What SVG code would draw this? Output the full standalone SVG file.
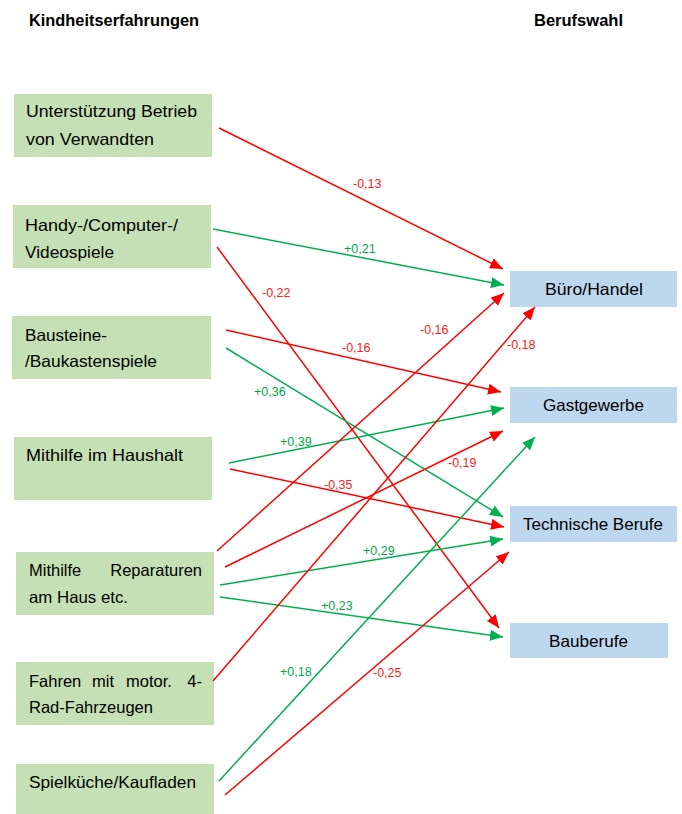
<svg xmlns="http://www.w3.org/2000/svg" width="682" height="814" viewBox="0 0 682 814">
<style>
.bg{fill:#ffffff}
.src{fill:#C5E0B4}
.dst{fill:#BDD7EE}
.t{font-family:"Liberation Sans",Arial,sans-serif;font-size:16.5px;fill:#000}
.h{font-family:"Liberation Sans",Arial,sans-serif;font-size:16.4px;font-weight:bold;fill:#000}
.r{stroke:#FF0000;stroke-width:1.5;fill:none;marker-end:url(#ar)}
.g{stroke:#00B050;stroke-width:1.5;fill:none;marker-end:url(#ag)}
.lr{font-family:"Liberation Sans",Arial,sans-serif;font-size:12.5px;fill:#FF2020}
.lg{font-family:"Liberation Sans",Arial,sans-serif;font-size:12.5px;fill:#00A848}
</style>
<defs>
<marker id="ar" markerUnits="userSpaceOnUse" markerWidth="13" markerHeight="11" refX="13" refY="5.5" orient="auto"><path d="M0,0 L13,5.5 L0,11 Z" fill="#FF0000"/></marker>
<marker id="ag" markerUnits="userSpaceOnUse" markerWidth="13" markerHeight="11" refX="13" refY="5.5" orient="auto"><path d="M0,0 L13,5.5 L0,11 Z" fill="#00B050"/></marker>
</defs>
<rect class="bg" x="0" y="0" width="682" height="814"/>
<text class="h" x="29" y="26" textLength="170" lengthAdjust="spacingAndGlyphs">Kindheitserfahrungen</text>
<text class="h" x="534" y="26" textLength="89" lengthAdjust="spacingAndGlyphs">Berufswahl</text>

<g id="n1"><rect class="src" x="14" y="94" width="198" height="63"/>
<text class="t" x="26" y="117" textLength="171" lengthAdjust="spacingAndGlyphs">Unterstützung Betrieb</text>
<text class="t" x="26" y="145" textLength="128" lengthAdjust="spacingAndGlyphs">von Verwandten</text></g>
<g id="n2"><rect class="src" x="13" y="205" width="198" height="63"/>
<text class="t" x="25" y="231" textLength="153" lengthAdjust="spacingAndGlyphs">Handy-/Computer-/</text>
<text class="t" x="25" y="258" textLength="89" lengthAdjust="spacingAndGlyphs">Videospiele</text></g>
<g id="n3"><rect class="src" x="12" y="316" width="199" height="63"/>
<text class="t" x="25" y="341" textLength="82" lengthAdjust="spacingAndGlyphs">Bausteine-</text>
<text class="t" x="25" y="367" textLength="132" lengthAdjust="spacingAndGlyphs">/Baukastenspiele</text></g>
<g id="n4"><rect class="src" x="14" y="437" width="198" height="63"/>
<text class="t" x="26" y="461" textLength="157" lengthAdjust="spacingAndGlyphs">Mithilfe im Haushalt</text></g>
<g id="n5"><rect class="src" x="16" y="552" width="198" height="63"/>
<text class="t" y="576"><tspan x="29">Mithilfe</tspan><tspan x="202" text-anchor="end">Reparaturen</tspan></text>
<text class="t" x="29" y="603" textLength="99" lengthAdjust="spacingAndGlyphs">am Haus etc.</text></g>
<g id="n6"><rect class="src" x="16" y="662" width="198" height="63"/>
<text class="t" y="687"><tspan x="29">Fahren</tspan><tspan x="92">mit</tspan><tspan x="126">motor.</tspan><tspan x="202" text-anchor="end">4-</tspan></text>
<text class="t" x="29" y="713" textLength="124" lengthAdjust="spacingAndGlyphs">Rad-Fahrzeugen</text></g>
<g id="n7"><rect class="src" x="16" y="764" width="198" height="50"/>
<text class="t" x="29" y="788" textLength="167" lengthAdjust="spacingAndGlyphs">Spielküche/Kaufladen</text></g>

<g id="d1"><rect class="dst" x="510" y="271" width="167" height="36"/>
<text class="t" x="594" y="295" text-anchor="middle" textLength="98" lengthAdjust="spacingAndGlyphs">Büro/Handel</text></g>
<g id="d2"><rect class="dst" x="510" y="387" width="167" height="36"/>
<text class="t" x="593.5" y="411" text-anchor="middle" textLength="101" lengthAdjust="spacingAndGlyphs">Gastgewerbe</text></g>
<g id="d3"><rect class="dst" x="510" y="506" width="167" height="36"/>
<text class="t" x="593" y="530" text-anchor="middle" textLength="140" lengthAdjust="spacingAndGlyphs">Technische Berufe</text></g>
<g id="d4"><rect class="dst" x="510" y="623" width="158" height="35"/>
<text class="t" x="588.5" y="647" text-anchor="middle" textLength="79" lengthAdjust="spacingAndGlyphs">Bauberufe</text></g>

<g id="connectors">
<line class="r" x1="219" y1="128" x2="503" y2="269"/>
<line class="g" x1="213" y1="229" x2="504" y2="285"/>
<line class="r" x1="217" y1="247" x2="499" y2="628"/>
<line class="r" x1="226" y1="330" x2="501" y2="392"/>
<line class="g" x1="226" y1="348" x2="503" y2="517"/>
<line class="g" x1="229" y1="463" x2="504" y2="408"/>
<line class="r" x1="230" y1="469" x2="504" y2="527"/>
<line class="r" x1="217" y1="551" x2="504" y2="293"/>
<line class="r" x1="225" y1="567" x2="503" y2="431"/>
<line class="g" x1="220" y1="585" x2="503" y2="539"/>
<line class="g" x1="220" y1="597" x2="503" y2="637"/>
<line class="r" x1="213" y1="681" x2="535" y2="307"/>
<line class="g" x1="219" y1="781" x2="535" y2="437"/>
<line class="r" x1="225" y1="795" x2="509" y2="552"/>
<text class="lr" x="353" y="188">-0,13</text>
<text class="lg" x="344" y="253">+0,21</text>
<text class="lr" x="262" y="297">-0,22</text>
<text class="lr" x="420" y="334">-0,16</text>
<text class="lr" x="342" y="352">-0,16</text>
<text class="lr" x="507" y="349">-0,18</text>
<text class="lg" x="254" y="396">+0,36</text>
<text class="lg" x="280" y="446">+0,39</text>
<text class="lr" x="448" y="467">-0,19</text>
<text class="lr" x="324" y="489">-0,35</text>
<text class="lg" x="363" y="555">+0,29</text>
<text class="lg" x="321" y="610">+0,23</text>
<text class="lg" x="280" y="676">+0,18</text>
<text class="lr" x="373" y="677">-0,25</text>
</g>
</svg>
